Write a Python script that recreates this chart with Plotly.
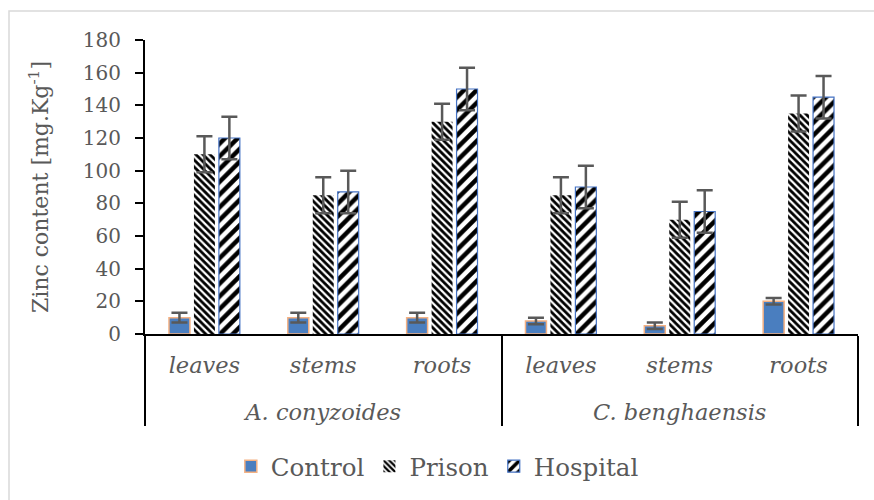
import plotly.graph_objects as go

species = ["A. conyzoides"] * 3 + ["C. benghaensis"] * 3
organs = ["leaves", "stems", "roots"] * 2

control = [10, 10, 10, 8, 5, 20]
control_err = [3, 3, 3, 2, 2, 2]
prison = [110, 85, 130, 85, 70, 135]
prison_err = [11, 11, 11, 11, 11, 11]
hospital = [120, 87, 150, 90, 75, 145]
hospital_err = [13, 13, 13, 13, 13, 13]

FONT = "DejaVu Serif"
TXT = "#595959"
ERRC = "#595959"

# leading line break pushes the species row lower, as in the reference
x = [["<br>" + s for s in species], organs]

fig = go.Figure()
fig.add_trace(go.Bar(
    name="Control", x=x, y=control,
    marker=dict(color="#4a7ebf", line=dict(color="#f4b183", width=1.5)),
    error_y=dict(type="data", array=control_err, color=ERRC, thickness=2.5, width=8),
))
fig.add_trace(go.Bar(
    name="Prison", x=x, y=prison,
    marker=dict(color="white", line=dict(color="white", width=0),
                pattern=dict(shape="\\", fgcolor="black", bgcolor="white", fgopacity=1,
                             size=5, solidity=0.55)),
    error_y=dict(type="data", array=prison_err, color=ERRC, thickness=2.5, width=8),
))
fig.add_trace(go.Bar(
    name="Hospital", x=x, y=hospital,
    marker=dict(color="white", line=dict(color="#4472c4", width=1.2),
                pattern=dict(shape="/", fgcolor="black", bgcolor="white", fgopacity=1,
                             size=9, solidity=0.5)),
    error_y=dict(type="data", array=hospital_err, color=ERRC, thickness=2.5, width=8),
))

fig.update_layout(
    width=874, height=500,
    margin=dict(l=145, r=16, t=40, b=165),
    paper_bgcolor="white", plot_bgcolor="white",
    barmode="group", bargap=0.37, bargroupgap=0.16,
    font=dict(family=FONT, color=TXT, size=20),
    showlegend=True,
    legend=dict(orientation="h", x=0.41, xanchor="center", y=-0.445, yanchor="middle",
                font=dict(family=FONT, size=24.5, color=TXT), itemwidth=30),
    yaxis=dict(range=[0, 180], dtick=20, showgrid=False, zeroline=False,
               showline=True, linecolor="black", linewidth=2,
               ticks="outside", ticklen=8, tickwidth=2, tickcolor="black",
               ticklabelstandoff=10,
               tickfont=dict(family=FONT, size=20, color=TXT),
               title=dict(text="Zinc content [mg.Kg<sup>-1</sup>]",
                          font=dict(family=FONT, size=22, color=TXT), standoff=28)),
    xaxis=dict(type="multicategory", showgrid=False, zeroline=False,
               showline=True, linecolor="black", linewidth=2,
               ticks="", showdividers=True, dividercolor="black", dividerwidth=2,
               ticklabelstandoff=10,
               tickfont=dict(family=FONT, size=22.5, color=TXT, style="italic")),
    shapes=[dict(type="rect", xref="paper", yref="paper",
                 x0=(9 - 145) / 713, x1=(880 - 145) / 713,
                 y0=(335 - 505) / 295, y1=(335 - 11) / 295,
                 line=dict(color="#d9d9d9", width=1.5), fillcolor="rgba(0,0,0,0)",
                 layer="below")],
)

fig.write_html("out.html", config={"displayModeBar": False},
               post_script="document.body.style.margin='0px';")
